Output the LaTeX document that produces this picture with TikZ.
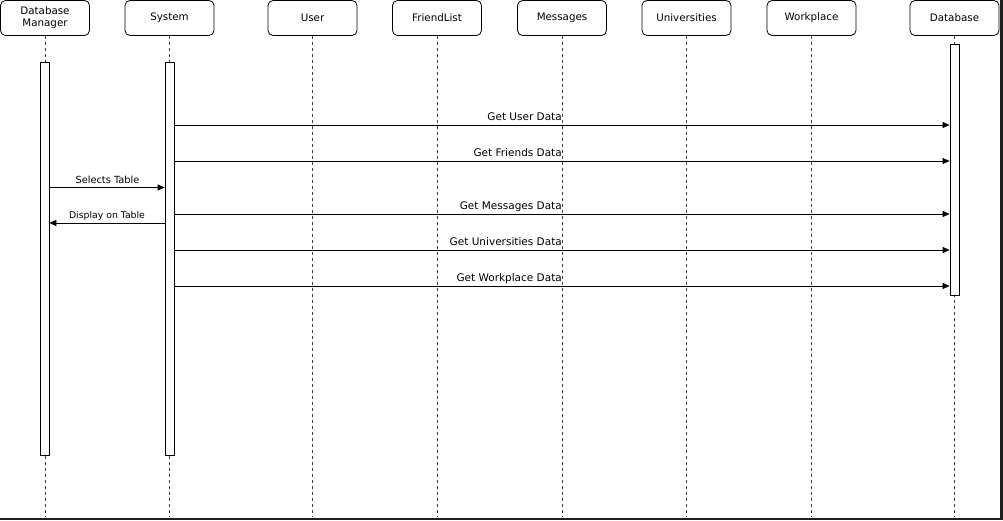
\documentclass[tikz,border=0pt]{standalone}
\usepackage{fontspec}
\setmainfont{DejaVu Sans}
\usetikzlibrary{arrows.meta}
\begin{document}
\begin{tikzpicture}[x=1pt,y=-1pt,
  head/.style={draw, rounded corners=5pt, minimum width=89pt, minimum height=35pt, inner sep=0pt,
    font=\fontsize{10.3}{12}\selectfont, align=center, line width=0.8pt},
  act/.style={draw, fill=white, minimum width=9pt, inner sep=0pt, line width=0.8pt},
  life/.style={dash pattern=on 3pt off 3pt, line width=0.9pt, draw=black!75},
  msg/.style={-{Triangle[length=7pt,width=6pt]}, line width=0.8pt},
  lbl/.style={font=\fontsize{10.5}{12}\selectfont, inner sep=0pt},
  slbl/.style={font=\fontsize{9.8}{11}\selectfont, inner sep=0pt}]
\useasboundingbox (0,0) rectangle (1003,520);
\fill[white] (0,0) rectangle (1003,520);
% heads
\node[head] (dm) at (45,18) {Database\\Manager};
\node[head] (sys) at (169.5,18) {System};
\node[head] (user) at (312.5,18) {User};
\node[head] (fl) at (437,18) {FriendList};
\node[head] (msgs) at (562,18) {Messages};
\node[head] (uni) at (686.5,18) {Universities};
\node[head] (wp) at (811.5,18) {Workplace};
\node[head] (db) at (954.5,18) {Database};
% lifeline ends
\foreach \n in {dm,sys,user,fl,msgs,uni,wp,db}{
  \coordinate (\n end) at (\n.south |- 0,517);
  \draw[life] (\n.south) -- (\n end);
}
% activations
\node[act, minimum height=393pt] (dmact) at (44.5,258.5) {};
\node[act, minimum height=393pt] (sysact) at (169.5,258.5) {};
\node[act, minimum height=251pt] (dbact) at (954.5,169.5) {};
% messages
\draw[msg] (sysact.east |- 0,125) -- (dbact.west |- 0,125);
\node[lbl, anchor=base east] at (562,120) {Get User Data};
\draw[msg] (sysact.east |- 0,161) -- (dbact.west |- 0,161);
\node[lbl, anchor=base east] at (562,156.5) {Get Friends Data};
\draw[msg] (dmact.east |- 0,187.5) -- (sysact.west |- 0,187.5);
\node[slbl, anchor=base] at (107.5,183) {Selects Table};
\draw[msg] (sysact.west |- 0,223) -- (dmact.east |- 0,223);
\node[slbl, anchor=base, font=\fontsize{9.3}{11}\selectfont] at (107,218.5) {Display on Table};
\draw[msg] (sysact.east |- 0,214) -- (dbact.west |- 0,214);
\node[lbl, anchor=base east] at (562,209.5) {Get Messages Data};
\draw[msg] (sysact.east |- 0,250) -- (dbact.west |- 0,250);
\node[lbl, anchor=base east] at (562,245.5) {Get Universities Data};
\draw[msg] (sysact.east |- 0,286) -- (dbact.west |- 0,286);
\node[lbl, anchor=base east] at (562,281.5) {Get Workplace Data};
% screenshot frame
\fill[black!88] (1000,0) rectangle (1003,520);
\fill[black!88] (0,518) rectangle (1003,520);
\end{tikzpicture}
\end{document}
